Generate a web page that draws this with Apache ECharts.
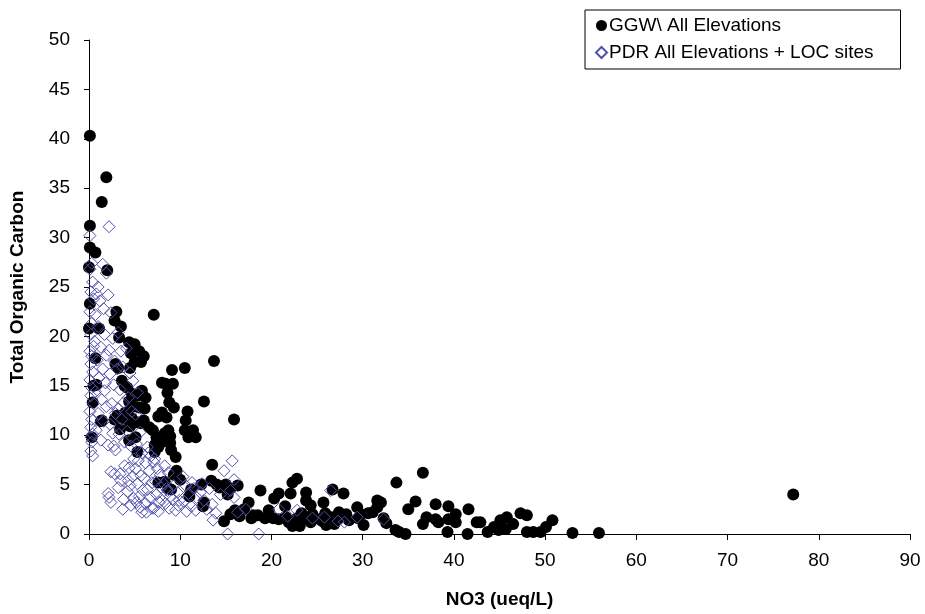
<!DOCTYPE html>
<html><head><meta charset="utf-8">
<script src="https://cdn.jsdelivr.net/npm/echarts@6/dist/echarts.min.js"></script>
<style>html,body{margin:0;padding:0;background:#fff}#c{width:925px;height:614px}</style>
</head><body><div id="c"></div>
<script>
var xTicks = [0,10,20,30,40,50,60,70,80,90];
var yTicks = [0,5,10,15,20,25,30,35,40,45,50];
var seriesNames = ['GGW\\ All Elevations', 'PDR All Elevations + LOC sites'];

var ggw = [
[0.1,40.3],[1.9,36.1],[1.4,33.6],[0.1,31.2],[0.1,29],[0.7,28.5],[2,26.7],[0,27],[0.1,23.3],[0,20.8],[0.5,15],[0.4,13.3],[0.3,9.8],[1.4,11.5],[0.7,17.8],[1.1,20.8],[0.8,15.1],[1.3,11.4],
[3,22.5],[2.8,21.6],[3.5,21],[3.3,19.9],[2.9,17.2],[3.2,16.8],[3.6,15.5],[3.9,15],[3.1,12],[3.9,11.7],[3.4,10.6],[4,12.3],[2.8,11.6],
[4.4,19.4],[5,19.2],[4.6,18.3],[5.5,18.5],[5,17.4],[4.5,16.8],[5.7,17.4],[4.2,14.8],[4.7,14.2],[5.3,14],[4.4,13.4],[4.9,12.9],[5.5,12.8],[4.2,12.2],[4.7,11.7],[5.2,11.3],[5.7,11.2],[4.5,10.9],[5.1,9.8],[4.4,9.5],[5.3,8.3],[6,18],[6.2,13.8],[6.1,12.7],[6,11.5],[5.8,14.5],
[7.1,22.2],[6.6,10.8],[7,10.5],[7.4,9.8],[7.2,9],[7.6,8.8],[7.2,8.3],[8,9.3],[7.6,11.9],[8,12.3],[8,15.3],[7.9,9.8],[7.6,5.2],[8.7,4.6],
[8.4,15.2],[9.1,16.6],[9.2,15.2],[8.6,14.3],[8.8,13.3],[9.3,12.8],[8.5,11.8],[8.7,10.5],[8.3,10.2],[8.9,9.9],[9,8.5],[9.5,7.8],[9.6,6.4],[9.3,6],[10,5.5],[9,4.5],[8.3,5.3],[8.9,9.2],
[10.5,16.8],[10.8,12.4],[10.6,11.5],[10.5,10.5],[11.4,10.5],[11.7,9.8],[10.9,9.8],[12.6,13.4],[11.2,4.5],[11,3.8],[12.3,5],[12.6,3.2],[12.5,2.8],
[13.7,17.5],[13.5,7],[13.4,5.4],[14,5],[14.3,4.7],[15,5],[15.5,4.6],[15.9,11.6],[15.2,4],[16.3,4.9],[16,2.4],[15.5,2],[14.8,1.3],[16.5,1.8],
[17.5,3.2],[17,2.5],[18,1.9],[18.8,4.4],[18.5,1.9],[19.3,1.6],[19.7,2.4],[17.8,1.6],
[20.3,3.6],[20.8,4.1],[22.1,4.1],[22.3,5.2],[22.8,5.6],[23.8,4.2],[23.8,3.4],[24.3,2.9],[25.7,3.2],[27.9,4.1],[29.4,2.7],[21.5,2.8],[20.2,1.6],[20.8,1.5],[21.6,1.7],[21.9,1.2],[22.8,1.6],[23.3,2.1],[24.5,2],[25.3,1.5],[25.9,2.1],[26.7,4.5],[26.6,1.7],[26,0.9],[27.4,2.2],[28.5,1.4],[29.5,1.6],[23.7,1.7],[24.3,1.2],[22.3,0.8],[23.1,0.8],[26.9,1],[25.6,1.3],[28.2,2],[29.8,2],[27.3,1.5],
[30.1,0.9],[30.6,2.1],[31.1,2.2],[31.6,3.4],[31.6,2.7],[32,3.2],[32.3,1.6],[32.6,1.1],[33.7,5.2],[33.6,0.4],[34,0.2],[34.7,0],[35,2.5],[35.8,3.3],[36.6,6.2],[36.6,1],[37,1.7],[38,3],[38,1.5],[38.3,1.2],[39.3,0.2],[39.4,2.8],[39.4,1.5],[40.2,2],[40.2,1.2],
[41.5,0],[41.6,2.5],[42.5,1.2],[42.9,1.2],[43.7,0.2],[44.4,0.7],[44.9,0.4],[45.1,1.4],[45.7,0.5],[45.8,1.7],[46.5,1],[47.3,2.1],[48,1.9],[48,0.2],[48.7,0.2],[49.5,0.2],[50.1,0.7],[50.8,1.4],[53,0.1],[55.9,0.1],[77.2,4]
];

var pdr = [
[0.1,30.2],[0.3,27.4],[0.1,26.8],[0.4,25.5],[0.2,24.5],[0.5,23.8],[0.1,22.5],[0.3,21.3],[0.2,20.2],[0.5,19],[0.1,18.5],[0.3,18],[0.2,17.2],[0.4,16.4],[0.1,15.6],[0.3,14.8],[0.2,14],[0.5,13.2],[0.1,12.4],[0.3,11.6],[0.2,10.8],[0.4,10.1],[0.25,9.8],[0.3,9.3],[0.2,8.4],[0.4,7.9],
[1.0,25],[0.8,24.3],[1.5,27.3],[1.9,26.4],[1.2,23.6],[0.7,22.2],[1.6,22.8],[1.0,21],[1.7,20.2],[0.6,19.5],[1.3,18.9],[1.9,18.1],[0.9,17.6],[1.5,16.7],[1.1,15.8],[1.8,15.3],[0.7,14.4],[1.4,13.6],[1.9,12.9],[1,12.2],[1.6,11.4],[0.8,10.5],[1.3,9.5],[2.1,9],[1.7,14.5],
[2.2,31.1],[2.1,24.2],[2.4,22.4],[2.6,19.8],[2.2,18.6],[2.8,17.5],[2.3,16.2],[2.7,15.1],[2.5,13.2],[2.9,12.2],[2.3,11.1],[2.7,8.9],[2.9,8.5],[2.4,6.3],[2.1,4.1],[2.4,3.2],[2.2,3.7],[2.8,6.1],[2.6,10.2],
[3.2,20.4],[3.5,18.5],[3.1,16.7],[3.7,16.9],[3.4,14.6],[3.8,13.3],[3.2,12.7],[3.6,11.6],[3.3,10.1],[3.9,9.3],[3.5,5.4],[3.2,4.7],[3.8,3.5],[3.7,2.5],[3.4,6.1],[3.9,6.9],
[4.1,18.8],[4.5,16.3],[4.8,15.5],[4.3,13.8],[4.7,12.4],[4.2,10.4],[4.6,8.9],[4.9,7.6],[4.4,6.7],[4.8,5.8],[4.5,4.9],[4.2,4.3],[4.9,3.6],[4.6,2.9],[4.3,5.4],
[5.3,14.3],[5.1,12.1],[5.6,10.3],[5.2,9.1],[5.8,8.2],[5.4,7.4],[5.1,6.6],[5.7,5.9],[5.3,5.1],[5.9,4.4],[5.5,3.8],[5.2,3.2],[5.8,2.2],[5.6,2.7],
[6.4,8.8],[6.8,7.9],[6.2,7.2],[6.6,6.4],[6.1,5.6],[6.9,5.2],[6.4,4.5],[6.7,3.7],[6.2,3.1],[6.9,2.6],[6.5,8.2],[6.3,2.2],
[7.2,7.6],[7.5,6.6],[7.8,6],[7.3,5.3],[7.9,4.7],[7.4,4],[7.7,3.2],[7.1,2.6],[7.6,2.3],[7.9,3.5],[7.1,7.3],
[8.3,6.9],[8.7,6.2],[8.2,5.1],[8.6,4.4],[8.9,3.8],[8.4,3.1],[8.8,2.6],[8.5,4.6],
[9.3,4.9],[9.7,4.2],[9.2,3.5],[9.8,2.9],[9.5,2.4],[9.9,3.4],
[10.3,5.8],[10.6,4.9],[10.9,4.1],[10.4,3.3],[11.2,2.8],[10.7,2.3],[11.5,4.6],[11.8,3.7],[11.3,5.2],[11.7,2.4],
[12.2,4.2],[12.6,3.4],[12.9,2.5],[12.4,5.1],[13.2,4.6],[13.5,3],[13.9,2.1],[13.6,1.4],
[14.8,6.4],[15.7,7.4],[15.9,5.5],[15.9,3.7],[16.3,2.2],[17.2,2.5],[15.2,0],[18.6,0],[14.4,4],[15.5,4.4],
[20.8,2.5],[22.8,2.4],[25.8,1.7],[26.5,4.4],[28,1.2],[29.4,1.7],[32.3,1.5],[24.5,1.6],[21.8,1.8],[27.3,1.3]
];

var font = 'Liberation Sans, Arial, sans-serif';
var chart = echarts.init(document.getElementById('c'), null, {renderer:'canvas'});
chart.setOption({
  backgroundColor:'#fff',
  animation:false,
  grid:{left:88, right:15, top:40, bottom:77, containLabel:false},
  legend:{
    orient:'vertical', left:585, top:10,
    data:seriesNames,
    itemWidth:11, itemHeight:11, itemGap:8,
    padding:[6,27,7,10],
    borderColor:'#000', borderWidth:1,
    textStyle:{fontFamily:font, fontSize:19, color:'#000', padding:[0,0,0,-3]}
  },
  xAxis:{
    type:'value', min:0, max:90, interval:10,
    name:'NO3 (ueq/L)', nameLocation:'middle', nameGap:56,
    nameTextStyle:{fontFamily:font, fontSize:19, fontWeight:'bold', color:'#000'},
    axisLine:{show:true, onZero:false, lineStyle:{color:'#000', width:1}},
    axisTick:{show:true, inside:false, length:6, lineStyle:{color:'#000'}},
    axisLabel:{fontFamily:font, fontSize:19, color:'#000', margin:17,
      formatter:function(v){return xTicks.indexOf(v)>=0? String(v):'';}},
    splitLine:{show:false}
  },
  yAxis:{
    type:'value', min:0, max:50, interval:5,
    name:'Total Organic Carbon', nameLocation:'middle', nameGap:62, nameRotate:90,
    nameTextStyle:{fontFamily:font, fontSize:19, fontWeight:'bold', color:'#000'},
    axisLine:{show:true, onZero:false, lineStyle:{color:'#000', width:1}},
    axisTick:{show:true, inside:false, length:5, lineStyle:{color:'#000'}},
    axisLabel:{fontFamily:font, fontSize:19, color:'#000', margin:19,
      formatter:function(v){return yTicks.indexOf(v)>=0? String(v):'';}},
    splitLine:{show:false}
  },
  series:[
    {name:seriesNames[0], type:'scatter', data:ggw, symbol:'circle', symbolSize:12, clip:false,
     itemStyle:{color:'#000', opacity:1}},
    {name:seriesNames[1], type:'scatter', data:pdr, symbol:'diamond', symbolSize:12, clip:false,
     itemStyle:{color:'rgba(255,255,255,0)', borderColor:'#4f4fae', borderWidth:1, opacity:1}}
  ]
});
</script></body></html>
